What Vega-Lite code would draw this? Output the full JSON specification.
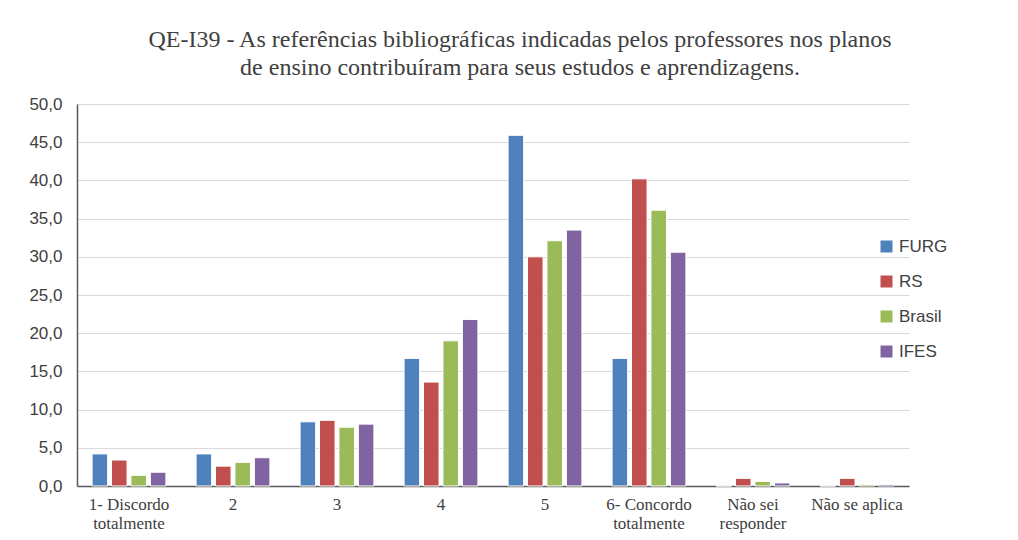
{
  "$schema": "https://vega.github.io/schema/vega-lite/v6.json",
  "autosize": "none",
  "width": 832,
  "height": 382,
  "padding": {"left": 77, "top": 104, "right": 109, "bottom": 54},
  "background": "white",
  "title": {
    "text": ["QE-I39 - As referências bibliográficas indicadas pelos professores nos planos", "de ensino contribuíram para seus estudos e aprendizagens."],
    "font": "Liberation Serif",
    "fontSize": 24,
    "fontWeight": "normal",
    "color": "#404040",
    "anchor": "middle",
    "dx": 27,
    "lineHeight": 28,
    "offset": 15
  },
  "data": {
    "values": [
      {"cat": "1- Discordo totalmente", "serie": "FURG", "v": 4.2},
      {"cat": "1- Discordo totalmente", "serie": "RS", "v": 3.4},
      {"cat": "1- Discordo totalmente", "serie": "Brasil", "v": 1.4},
      {"cat": "1- Discordo totalmente", "serie": "IFES", "v": 1.8},
      {"cat": "2", "serie": "FURG", "v": 4.2},
      {"cat": "2", "serie": "RS", "v": 2.6},
      {"cat": "2", "serie": "Brasil", "v": 3.1},
      {"cat": "2", "serie": "IFES", "v": 3.7},
      {"cat": "3", "serie": "FURG", "v": 8.4},
      {"cat": "3", "serie": "RS", "v": 8.6},
      {"cat": "3", "serie": "Brasil", "v": 7.7},
      {"cat": "3", "serie": "IFES", "v": 8.1},
      {"cat": "4", "serie": "FURG", "v": 16.7},
      {"cat": "4", "serie": "RS", "v": 13.6},
      {"cat": "4", "serie": "Brasil", "v": 19.0},
      {"cat": "4", "serie": "IFES", "v": 21.8},
      {"cat": "5", "serie": "FURG", "v": 45.9},
      {"cat": "5", "serie": "RS", "v": 30.0},
      {"cat": "5", "serie": "Brasil", "v": 32.1},
      {"cat": "5", "serie": "IFES", "v": 33.5},
      {"cat": "6- Concordo totalmente", "serie": "FURG", "v": 16.7},
      {"cat": "6- Concordo totalmente", "serie": "RS", "v": 40.2},
      {"cat": "6- Concordo totalmente", "serie": "Brasil", "v": 36.1},
      {"cat": "6- Concordo totalmente", "serie": "IFES", "v": 30.6},
      {"cat": "Não sei responder", "serie": "FURG", "v": 0.0},
      {"cat": "Não sei responder", "serie": "RS", "v": 1.0},
      {"cat": "Não sei responder", "serie": "Brasil", "v": 0.6},
      {"cat": "Não sei responder", "serie": "IFES", "v": 0.4},
      {"cat": "Não se aplica", "serie": "FURG", "v": 0.0},
      {"cat": "Não se aplica", "serie": "RS", "v": 1.0},
      {"cat": "Não se aplica", "serie": "Brasil", "v": 0.2},
      {"cat": "Não se aplica", "serie": "IFES", "v": 0.2}
    ]
  },
  "mark": {"type": "bar", "stroke": "white", "strokeWidth": 1},
  "encoding": {
    "x": {
      "field": "cat",
      "type": "nominal",
      "sort": null,
      "title": null,
      "scale": {"paddingInner": 0.29, "paddingOuter": 0.145},
      "axis": {
        "labelAngle": 0,
        "ticks": false,
        "domainColor": "#595959",
        "domainWidth": 1.5,
        "labelFont": "Liberation Serif",
        "labelFontSize": 17,
        "labelColor": "#404040",
        "labelPadding": 10,
        "labelLineHeight": 19,
        "labelExpr": "datum.label == '1- Discordo totalmente' ? ['1- Discordo', 'totalmente'] : datum.label == '6- Concordo totalmente' ? ['6- Concordo', 'totalmente'] : datum.label == 'Não sei responder' ? ['Não sei', 'responder'] : datum.label"
      }
    },
    "xOffset": {
      "field": "serie",
      "type": "nominal",
      "sort": ["FURG", "RS", "Brasil", "IFES"],
      "scale": {"paddingInner": 0.2}
    },
    "y": {
      "field": "v",
      "type": "quantitative",
      "title": null,
      "scale": {"domain": [0, 50]},
      "axis": {
        "values": [0, 5, 10, 15, 20, 25, 30, 35, 40, 45, 50],
        "ticks": false,
        "domainColor": "#595959",
        "domainWidth": 1.5,
        "gridColor": "#D9D9D9",
        "labelFont": "Liberation Sans",
        "labelFontSize": 17,
        "labelColor": "#404040",
        "labelPadding": 15,
        "labelExpr": "replace(format(datum.value, '.1f'), '.', ',')"
      }
    },
    "color": {
      "field": "serie",
      "type": "nominal",
      "sort": ["FURG", "RS", "Brasil", "IFES"],
      "scale": {"domain": ["FURG", "RS", "Brasil", "IFES"], "range": ["#4F81BD", "#C0504D", "#9BBB59", "#8064A2"]},
      "legend": {
        "title": null,
        "orient": "none",
        "legendX": 801,
        "legendY": 134,
        "symbolType": "square",
        "symbolSize": 144,
        "symbolStrokeWidth": 0,
        "labelFont": "Liberation Sans",
        "labelFontSize": 17,
        "labelColor": "#404040",
        "labelOffset": 4,
        "rowPadding": 17
      }
    }
  },
  "config": {"view": {"stroke": null}}
}
